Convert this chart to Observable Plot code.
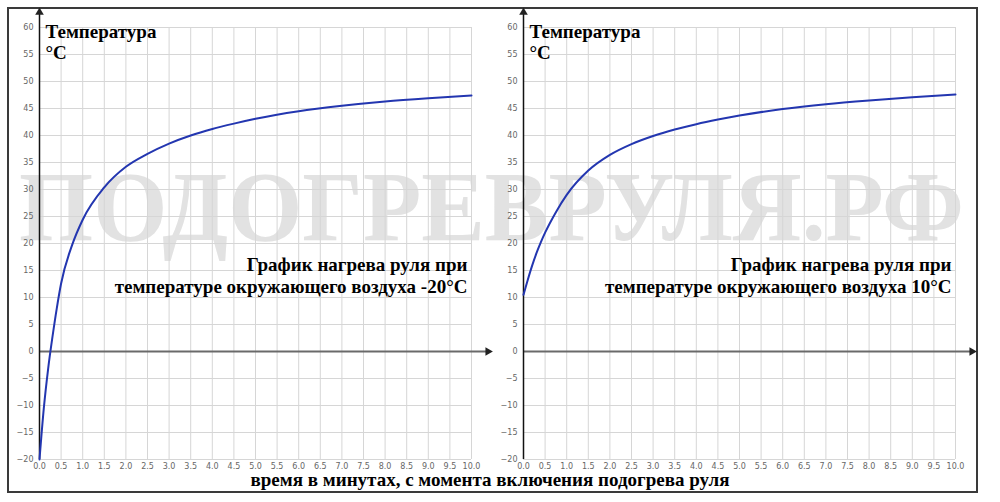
<!DOCTYPE html>
<html>
<head>
<meta charset="utf-8">
<script src="https://cdn.jsdelivr.net/npm/d3@7"></script>
<script src="https://cdn.jsdelivr.net/npm/@observablehq/plot@0.6"></script>
<style>
  html, body { margin: 0; padding: 0; background: #fff; }
  #page { position: relative; width: 1000px; height: 502px; overflow: hidden; }
  #frame { position: absolute; left: 7px; top: 7px; width: 967px; height: 482px; border: 2px solid #3a3a3a; }
  .panel { position: absolute; top: 0; }
  #left { left: 0; }
  #right { left: 484px; }
  #bg { position: absolute; left: 0; top: 0; }
</style>
</head>
<body>
<div id="page">
  <div id="frame"></div>
  <svg id="bg" width="1000" height="502"></svg>
  <div id="left" class="panel"></div>
  <div id="right" class="panel"></div>
</div>
<script>
// ---- data ----
const minutes = [0, 0.1, 0.2, 0.3, 0.4, 0.5, 0.75, 1, 1.5, 2, 2.5, 3, 3.5, 4, 4.5, 5, 6, 7, 8, 9, 10];
const tempAtMinus20 = [-20, -10.5, -3.2, 2.7, 8.0, 12.6, 19.6, 24.4, 30.4, 34.2, 36.6, 38.5, 40.0, 41.2, 42.2, 43.1, 44.5, 45.5, 46.3, 46.9, 47.4];
const tempAtPlus10 = [10.5, 13.3, 15.9, 18.2, 20.2, 22.0, 25.8, 29.0, 33.5, 36.4, 38.4, 39.9, 41.1, 42.1, 42.95, 43.7, 44.9, 45.8, 46.5, 47.1, 47.6];
const xTicks = [0, 0.5, 1, 1.5, 2, 2.5, 3, 3.5, 4, 4.5, 5, 5.5, 6, 6.5, 7, 7.5, 8, 8.5, 9, 9.5, 10];
const yTicks = [-20, -15, -10, -5, 0, 5, 10, 15, 20, 25, 30, 35, 40, 45, 50, 55, 60];
const yTitle = "Температура\n°C";
const leftNote = "График нагрева руля при\nтемпературе окружающего воздуха -20°C";
const rightNote = "График нагрева руля при\nтемпературе окружающего воздуха 10°C";
const watermark = "ПОДОГРЕВРУЛЯ.РФ";
const caption = "время в минутах, с момента включения подогрева руля";

// axis arrow ends (in data units, just past the domain)
const xArrowEnd = 10.38;
const yArrowEnd = 62.8;

const serif = "'Liberation Serif', 'Times New Roman', serif";

function panel(temps, note) {
  const data = minutes.map((t, i) => ({t, v: temps[i]}));
  return Plot.plot({
    width: 495,
    height: 480,
    marginLeft: 39,
    marginRight: 24,
    marginTop: 27,
    marginBottom: 21,
    style: {background: "transparent", fontFamily: "'DejaVu Sans', Verdana, sans-serif", fontSize: "8px", color: "#555", overflow: "visible"},
    x: {domain: [0, 10], label: null},
    y: {domain: [-20, 60], label: null},
    marks: [
      Plot.gridX(xTicks, {stroke: "#d6d6d6", strokeOpacity: 1, strokeWidth: 1}),
      Plot.gridY(yTicks, {stroke: "#d6d6d6", strokeOpacity: 1, strokeWidth: 1}),
      Plot.axisX(xTicks, {tickSize: 0, tickPadding: 4, tickFormat: d => d.toFixed(1), label: null, fill: "#666"}),
      Plot.axisY(yTicks, {tickSize: 0, tickPadding: 6, label: null, fill: "#666"}),
      Plot.ruleY([{y: 0, x1: 0, x2: xArrowEnd}], {y: "y", x1: "x1", x2: "x2", stroke: "#6a6a6a", strokeWidth: 2}),
      Plot.ruleX([{x: 0, y1: -20, y2: yArrowEnd}], {x: "x", y1: "y1", y2: "y2", stroke: "#111", strokeWidth: 1.5}),
      Plot.dot([{x: xArrowEnd, y: 0}], {x: "x", y: "y", symbol: "triangle", r: 3.2, fill: "#222", stroke: null, rotate: 90}),
      Plot.dot([{x: 0, y: yArrowEnd}], {x: "x", y: "y", symbol: "triangle", r: 3.2, fill: "#222", stroke: null}),
      Plot.line(data, {x: "t", y: "v", stroke: "#2336b0", strokeWidth: 2, curve: "monotone-x"}),
      Plot.text([yTitle], {frameAnchor: "top-left", dx: 6, dy: -4.5, lineAnchor: "top", lineHeight: 1.1, textAnchor: "start", fontFamily: serif, fontWeight: "bold", fontSize: 19, fill: "#000"}),
      Plot.text([note], {frameAnchor: "top-right", dx: -4, dy: 227.5, lineAnchor: "top", lineHeight: 1.16, textAnchor: "end", fontFamily: serif, fontWeight: "bold", fontSize: 19, fill: "#000"})
    ]
  });
}

// background: watermark + caption
const bg = d3.select("#bg");
bg.append("text")
  .attr("x", 19).attr("y", 240)
  .attr("textLength", 945).attr("lengthAdjust", "spacingAndGlyphs")
  .attr("font-family", serif).attr("font-weight", "bold").attr("font-size", 100)
  .attr("fill", "#e2e2e2")
  .text(watermark);
bg.append("text")
  .attr("x", 490).attr("y", 486)
  .attr("text-anchor", "middle")
  .attr("font-family", serif).attr("font-weight", "bold").attr("font-size", 19)
  .attr("fill", "#000")
  .text(caption);

document.getElementById("left").append(panel(tempAtMinus20, leftNote));
document.getElementById("right").append(panel(tempAtPlus10, rightNote));
</script>
</body>
</html>
